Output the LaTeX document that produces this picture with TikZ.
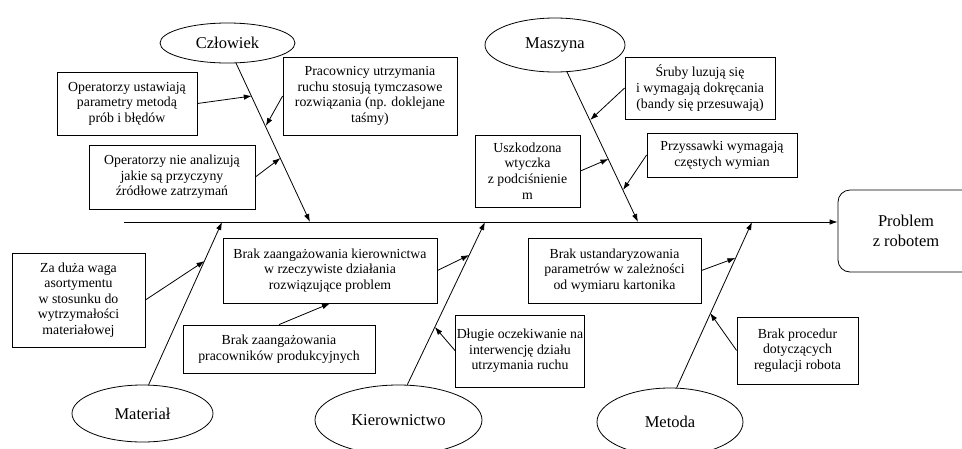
\documentclass[tikz,border=0pt]{standalone}
\usepackage{fontspec}
\setmainfont{Liberation Serif}
\usetikzlibrary{shapes.geometric,arrows.meta,calc}
\begin{document}
\begin{tikzpicture}[x=1pt,y=-1pt,line width=0.8pt,
  cause/.style={draw,rectangle,align=center,inner sep=1pt,font=\fontsize{13.8}{15.6}\selectfont},
  cat/.style={draw,ellipse,inner sep=0pt,font=\fontsize{16.5}{19}\selectfont},
  arr/.style={-{Latex[length=8pt,width=5.5pt]}}]
\useasboundingbox (0,0) rectangle (962,448);

% effect
\node[draw,rounded corners=12pt,minimum width=136pt,minimum height=82pt,align=center,
      font=\fontsize{16.5}{20}\selectfont] (prob) at (906,231) {Problem\\z robotem};

% categories
\node[cat,minimum width=135pt,minimum height=40pt] (clo) at (227.5,43) {Człowiek};
\node[cat,minimum width=140pt,minimum height=54pt] (mas) at (555,45) {Maszyna};
\node[cat,minimum width=141pt,minimum height=57pt] (mat) at (142.5,413.5) {Materiał};
\node[cat,minimum width=167pt,minimum height=70pt] (kie) at (398.5,420) {Kierownictwo};
\node[cat,minimum width=146pt,minimum height=68pt] (met) at (670,422) {Metoda};

% causes
\node[cause,minimum width=140pt,minimum height=63pt] (opu) at (127,103.5) {Operatorzy ustawiają\\parametry metodą\\prób i błędów};
\node[cause,minimum width=166pt,minimum height=64pt] (ona) at (172,177) {Operatorzy nie analizują\\jakie są przyczyny\\źródłowe zatrzymań};
\node[cause,minimum width=174pt,minimum height=78pt] (pra) at (370,96) {Pracownicy utrzymania\\ruchu stosują tymczasowe\\rozwiązania (np. doklejane\\taśmy)};
\node[cause,minimum width=150pt,minimum height=62pt] (sru) at (700,88) {Śruby luzują się\\i wymagają dokręcania\\(bandy się przesuwają)};
\node[cause,minimum width=105pt,minimum height=72pt] (usz) at (527.5,171) {Uszkodzona\\wtyczka\\z podciśnienie\\m};
\node[cause,minimum width=150pt,minimum height=44pt] (prz) at (722,155) {Przyssawki wymagają\\częstych wymian};
\node[cause,minimum width=133pt,minimum height=94pt] (za) at (78.5,300) {Za duża waga\\asortymentu\\w stosunku do\\wytrzymałości\\materiałowej};
\node[cause,minimum width=214pt,minimum height=65pt] (bzk) at (330,270.5) {Brak zaangażowania kierownictwa\\w rzeczywiste działania\\rozwiązujące problem};
\node[cause,minimum width=192pt,minimum height=48pt] (bzp) at (279,349) {Brak zaangażowania\\pracowników produkcyjnych};
\node[cause,minimum width=126pt,minimum height=72pt] (dlu) at (520,351) {Długie oczekiwanie na\\interwencję działu\\utrzymania ruchu};
\node[cause,minimum width=173pt,minimum height=65pt] (bus) at (614.5,270.5) {Brak ustandaryzowania\\parametrów w zależności\\od wymiaru kartonika};
\node[cause,minimum width=121pt,minimum height=67pt] (bpr) at (797.5,350.5) {Brak procedur\\dotyczących\\regulacji robota};

% spine
\coordinate (sL) at (124,222);
\draw[arr] (sL) -- (sL -| prob.west);

% bone ends on spine
\coordinate (j1) at (310,222);
\coordinate (j2) at (638,222);
\coordinate (j3) at (222,222);
\coordinate (j4) at (485,222);
\coordinate (j5) at (752,222);

\draw[arr] (clo.-67) -- (j1);
\draw[arr] (mas.-66) -- (j2);
\draw[arr] (mat.78) -- (j3);
\draw[arr] (kie.76) -- (j4);
\draw[arr] (met.79) -- (j5);

% targets on bones
\coordinate (t1) at (251.8,96);
\coordinate (t2) at (265.8,126);
\coordinate (t3) at (280.5,158);
\coordinate (t4) at (590.2,120);
\coordinate (t5) at (608.5,159);
\coordinate (t6) at (623,190);
\coordinate (t7) at (204.5,261);
\coordinate (t8) at (469.2,255);
\coordinate (t9) at (434.8,327);
\coordinate (t10) at (735.4,258);
\coordinate (t11) at (710.1,313);

\draw[arr] (opu.east) -- (t1);
\draw[arr] (pra.west) -- (t2);
\draw[arr] (ona.east) -- (t3);
\draw[arr] (sru.west) -- (t4);
\draw[arr] (usz.east) -- (t5);
\draw[arr] (prz.west) -- (t6);
\draw[arr] (za.east) -- (t7);
\draw[arr] (bzk.east) -- (t8);
\draw[arr] (dlu.west) -- (t9);
\draw[arr] (bus.east) -- (t10);
\draw[arr] (bpr.west) -- (t11);
\draw[arr] (bzp.north) -- (bzk.south);
\end{tikzpicture}
\end{document}
